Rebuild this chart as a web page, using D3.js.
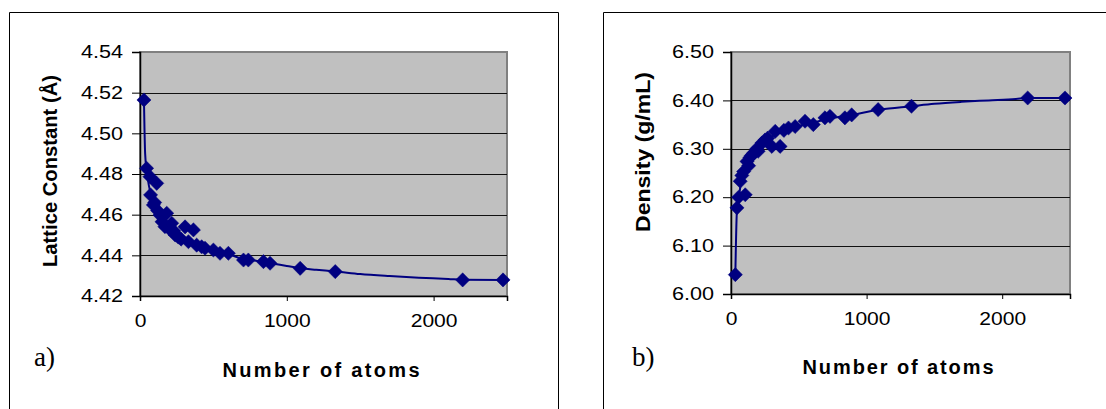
<!DOCTYPE html>
<html>
<head>
<meta charset="utf-8">
<script src="https://cdn.jsdelivr.net/npm/d3@7"></script>
<style>
  html, body { margin: 0; padding: 0; background: #fff; }
  svg { display: block; }
</style>
</head>
<body>
<svg id="chart" width="1106" height="409"></svg>
<script>
// ---------- DATA ----------
// Panel a) : lattice constant vs number of atoms
const atomsA   = [27, 45, 68, 114, 72, 91, 100, 120, 136, 150, 182, 170, 200, 216, 230, 239, 260, 280, 307, 364, 330, 386, 420, 443, 500, 545, 602, 705, 738, 841, 886, 1091, 1330, 2198, 2473];
const latticeA = [4.5164, 4.4828, 4.4787, 4.4754, 4.4697, 4.4648, 4.4660, 4.4620, 4.4598, 4.4565, 4.4607, 4.4541, 4.4530, 4.4558, 4.4520, 4.4500, 4.4490, 4.4480, 4.4540, 4.4525, 4.4467, 4.4450, 4.4442, 4.4435, 4.4426, 4.4410, 4.4410, 4.4377, 4.4377, 4.4369, 4.4361, 4.4336, 4.4320, 4.4279, 4.4279];
// smooth curve drawn through the data (no markers)
const fitAtomsA   = [27, 35, 45, 60, 80, 100, 150, 200, 250, 300, 400, 500, 600, 700, 800, 900, 1000, 1100, 1200, 1330, 1500, 1700, 1900, 2100, 2200, 2473];
const fitLatticeA = [4.5164, 4.4900, 4.4820, 4.4745, 4.4685, 4.4645, 4.4585, 4.4545, 4.4512, 4.4485, 4.4450, 4.4425, 4.4407, 4.4382, 4.4372, 4.4360, 4.4348, 4.4336, 4.4329, 4.4321, 4.4308, 4.4298, 4.4290, 4.4284, 4.4280, 4.4279];
const yTicksA = [4.42, 4.44, 4.46, 4.48, 4.50, 4.52, 4.54];

// Panel b) : density vs number of atoms
const atomsB   = [32, 44, 56, 105, 68, 80, 93, 118, 130, 140, 150, 166, 190, 200, 228, 250, 270, 301, 326, 362, 390, 424, 473, 546, 607, 693, 730, 840, 890, 1085, 1331, 2188, 2463];
const densityB = [6.040, 6.178, 6.200, 6.205, 6.233, 6.245, 6.253, 6.274, 6.265, 6.282, 6.286, 6.291, 6.300, 6.295, 6.312, 6.318, 6.322, 6.305, 6.336, 6.305, 6.338, 6.343, 6.346, 6.357, 6.350, 6.364, 6.367, 6.364, 6.370, 6.381, 6.388, 6.405, 6.405];
const fitAtomsB   = [32, 44, 56, 70, 90, 120, 170, 230, 300, 400, 500, 600, 700, 800, 900, 1000, 1100, 1331, 1500, 1700, 1900, 2100, 2188, 2463];
const fitDensityB = [6.040, 6.175, 6.195, 6.224, 6.249, 6.271, 6.292, 6.310, 6.325, 6.338, 6.347, 6.353, 6.361, 6.366, 6.370, 6.376, 6.381, 6.388, 6.393, 6.397, 6.400, 6.403, 6.405, 6.405];
const yTicksB = [6.00, 6.10, 6.20, 6.30, 6.40, 6.50];

const xTicks = [0, 1000, 2000];
const xDomain = [0, 2500];

const xTitle = "Number of atoms";
const yTitleA = "Lattice Constant (Å)";
const yTitleB = "Density (g/mL)";
const panelLabels = ["a)", "b)"];

// ---------- DRAW ----------
const svg = d3.select("#chart");
const navy = "#000080";
const SANS = "'Liberation Sans', Arial, sans-serif";
const SERIF = "'Liberation Serif', 'Times New Roman', serif";

function stretch(sel, k) {
  sel.each(function () {
    const w = this.getComputedTextLength();
    d3.select(this).attr("textLength", w * k).attr("lengthAdjust", "spacingAndGlyphs");
  });
}

function panel(cfg) {
  const g = svg.append("g");
  // outer frame
  g.append("path")
    .attr("d", `M${cfg.frame[0]},${cfg.frame[3]}V${cfg.frame[1]}H${cfg.frame[2]}V${cfg.frame[3]}`)
    .attr("fill", "none").attr("stroke", "#000").attr("stroke-width", 1);

  const x = d3.scaleLinear().domain(xDomain).range([cfg.left, cfg.right]);
  const y = d3.scaleLinear().domain(cfg.yDomain).range([cfg.bottom, cfg.top]);

  // plot area
  g.append("rect")
    .attr("x", cfg.left).attr("y", cfg.top)
    .attr("width", cfg.right - cfg.left).attr("height", cfg.bottom - cfg.top)
    .attr("fill", "#C0C0C0").attr("stroke", "#808080").attr("stroke-width", 2);

  // gridlines
  g.append("g").selectAll("line")
    .data(cfg.yTicks.filter(v => v !== cfg.yDomain[0] && v !== cfg.yDomain[1]))
    .join("line")
    .attr("x1", cfg.left).attr("x2", cfg.right)
    .attr("y1", d => Math.round(y(d)) + 0.5).attr("y2", d => Math.round(y(d)) + 0.5)
    .attr("stroke", "#111").attr("stroke-width", 1);

  // axes
  const yAxis = d3.axisLeft(y).tickValues(cfg.yTicks).tickFormat(d3.format(".2f"))
    .tickSize(8).tickPadding(9);
  const ya = g.append("g").attr("transform", `translate(${cfg.left},0)`).call(yAxis);
  const xAxis = d3.axisBottom(x).tickValues(xTicks).tickFormat(d3.format("d"))
    .tickSize(5).tickPadding(13);
  const xa = g.append("g").attr("transform", `translate(0,${cfg.bottom})`).call(xAxis);
  [ya, xa].forEach(a => {
    a.select(".domain").attr("stroke", "#000").attr("stroke-width", 1.5);
    a.selectAll(".tick line").attr("stroke", "#000").attr("stroke-width", 1);
    a.selectAll(".tick text").attr("font-size", 18)
      .style("font-family", SANS).attr("fill", "#000");
  });
  stretch(ya.selectAll(".tick text"), 1.2);
  stretch(xa.selectAll(".tick text"), 1.17);

  // fitted smooth line
  const line = d3.line().x(d => x(d[0])).y(d => y(d[1])).curve(d3.curveMonotoneX);
  g.append("path")
    .datum(d3.zip(cfg.fitX, cfg.fitY))
    .attr("d", line)
    .attr("fill", "none").attr("stroke", navy).attr("stroke-width", 2);

  // diamond markers
  const sym = d3.symbol().type(d3.symbolSquare).size(100);
  g.append("g").selectAll("path")
    .data(d3.zip(cfg.dataX, cfg.dataY))
    .join("path")
    .attr("d", sym)
    .attr("transform", d => `translate(${x(d[0])},${y(d[1])}) rotate(45)`)
    .attr("fill", navy).attr("stroke", navy).attr("stroke-width", 0.5);

  // titles
  g.append("text")
    .attr("x", cfg.xTitlePos[0]).attr("y", cfg.xTitlePos[1])
    .attr("text-anchor", "middle").attr("font-weight", "bold").attr("font-size", 20)
    .style("font-family", SANS)
    .attr("textLength", cfg.xTitleLen).attr("lengthAdjust", "spacing")
    .text(xTitle);
  g.append("text")
    .attr("transform", `translate(${cfg.yTitlePos[0]},${cfg.yTitlePos[1]}) rotate(-90)`)
    .attr("text-anchor", "middle").attr("font-weight", "bold").attr("font-size", 20)
    .style("font-family", SANS)
    .attr("textLength", cfg.yTitleLen).attr("lengthAdjust", "spacingAndGlyphs")
    .text(cfg.yTitle);
  g.append("text")
    .attr("x", cfg.labelPos[0]).attr("y", cfg.labelPos[1])
    .style("font-family", SERIF).attr("font-size", 27)
    .text(cfg.label);
}

panel({
  frame: [9.5, 12.5, 558.5, 420],
  left: 140, right: 507, top: 52, bottom: 296,
  yDomain: [4.42, 4.54], yTicks: yTicksA,
  dataX: atomsA, dataY: latticeA, fitX: fitAtomsA, fitY: fitLatticeA,
  xTitlePos: [321, 377], xTitleLen: 197,
  yTitle: yTitleA, yTitlePos: [57, 171], yTitleLen: 192,
  label: panelLabels[0], labelPos: [34, 366]
});

panel({
  frame: [603.5, 12.5, 1120, 420],
  left: 731, right: 1070, top: 52, bottom: 294,
  yDomain: [6.00, 6.50], yTicks: yTicksB,
  dataX: atomsB, dataY: densityB, fitX: fitAtomsB, fitY: fitDensityB,
  xTitlePos: [898, 374], xTitleLen: 191,
  yTitle: yTitleB, yTitlePos: [650, 152], yTitleLen: 160,
  label: panelLabels[1], labelPos: [632, 366]
});
</script>
</body>
</html>
